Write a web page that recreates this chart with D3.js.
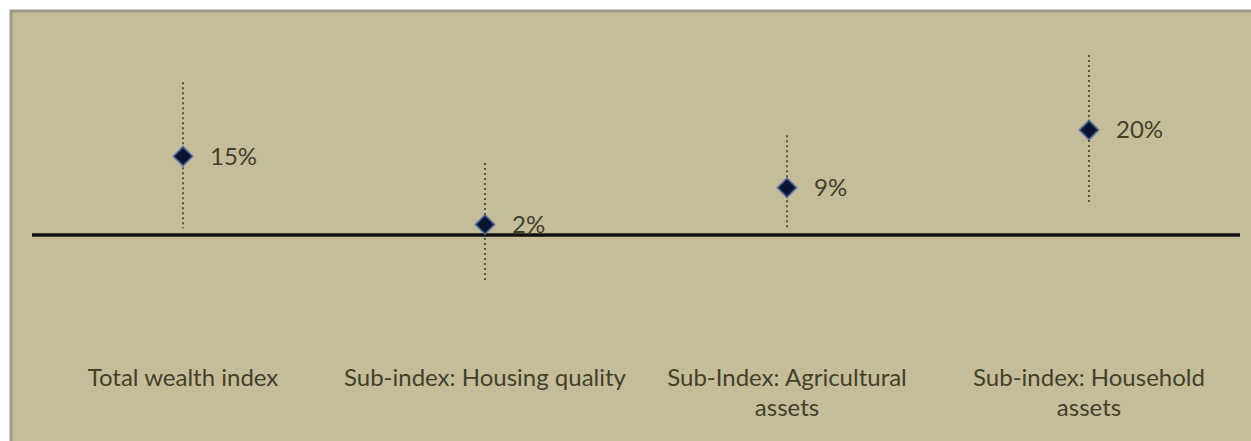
<!DOCTYPE html>
<html>
<head>
<meta charset="utf-8">
<script src="https://cdn.jsdelivr.net/npm/d3@7"></script>
<style>
  body { margin: 0; background: #fff; }
  svg { display: block; }
  .cat { font-family: Lato, "Open Sans", sans-serif; font-size: 24px; fill: #433f2c; }
  .val { font-family: Lato, "Open Sans", sans-serif; font-size: 24px; fill: #433f2c; }
</style>
</head>
<body>
<svg id="chart"></svg>
<script>
  const categories = [['Total wealth index'],
                      ['Sub-index: Housing quality'],
                      ['Sub-Index: Agricultural', 'assets'],
                      ['Sub-index: Household', 'assets']]
  const estimates = [15, 2, 9, 20]
  const lower = [1.3, -9, 1.3, 6.1]
  const upper = [29.1, 13.7, 19, 34.3]
  const labels = ['15%', '2%', '9%', '20%']

  const width = 1251
  const height = 441

  const svg = d3.select('#chart')
    .attr('width', width)
    .attr('height', height)

  // panel
  svg.append('rect')
    .attr('x', 10).attr('y', 10)
    .attr('width', width - 10).attr('height', height - 10)
    .attr('fill', '#c5bd99')
  svg.append('path')
    .attr('d', `M11,${height} V11 H${width}`)
    .attr('fill', 'none')
    .attr('stroke', '#9c9a88')
    .attr('stroke-width', 3)

  const x = d3.scaleBand()
    .domain(d3.range(categories.length))
    .range([32, 1240])

  const y = d3.scaleLinear()
    .domain([0, 20])
    .range([235, 130])

  // zero line
  svg.append('line')
    .attr('x1', 32).attr('x2', 1240)
    .attr('y1', y(0)).attr('y2', y(0))
    .attr('stroke', '#111')
    .attr('stroke-width', 3.5)

  const g = svg.selectAll('.point')
    .data(estimates)
    .enter()
    .append('g')
    .attr('transform', (d, i) => `translate(${x(i) + x.bandwidth() / 2},0)`)

  g.append('line')
    .attr('y1', (d, i) => y(upper[i]))
    .attr('y2', (d, i) => y(lower[i]))
    .attr('stroke', '#4e4c3e')
    .attr('stroke-width', 1.8)
    .attr('stroke-dasharray', '2,3')

  g.append('path')
    .attr('d', d3.symbol(d3.symbolDiamond2, 230))
    .attr('transform', d => `translate(0,${y(d)})`)
    .attr('fill', '#0a1430')
    .attr('stroke', '#4a6aa8')
    .attr('stroke-width', 2)
    .attr('stroke-opacity', 0.7)

  g.append('text')
    .classed('val', true)
    .attr('x', 27)
    .attr('y', d => y(d))
    .attr('dy', '0.35em')
    .text((d, i) => labels[i])

  // category labels
  svg.selectAll('.cat')
    .data(categories)
    .enter()
    .append('text')
    .classed('cat', true)
    .attr('text-anchor', 'middle')
    .attr('x', (d, i) => x(i) + x.bandwidth() / 2)
    .attr('y', 386)
    .selectAll('tspan')
    .data(d => d)
    .enter()
    .append('tspan')
    .attr('x', function () { return this.parentNode.getAttribute('x') })
    .attr('dy', (d, i) => i === 0 ? 0 : 30)
    .text(d => d)
</script>
</body>
</html>
